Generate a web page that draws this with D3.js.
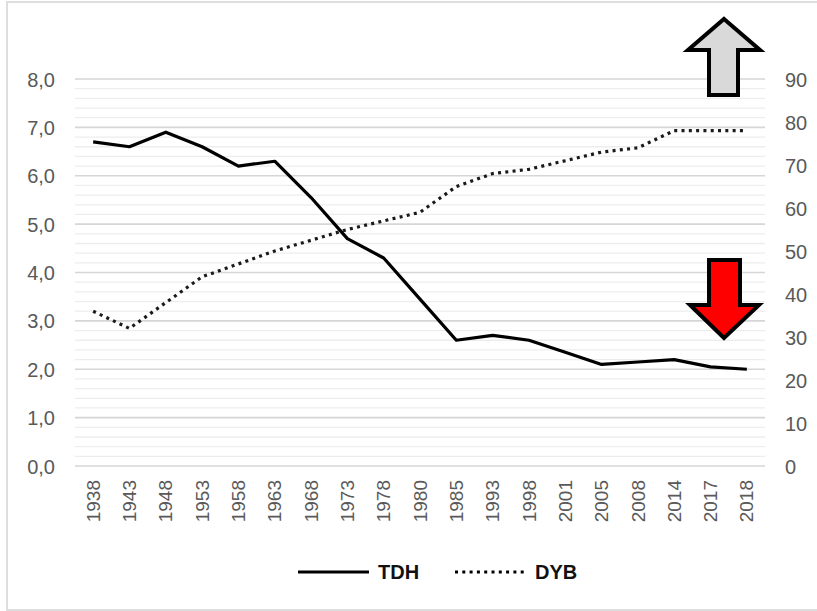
<!DOCTYPE html>
<html>
<head>
<meta charset="utf-8">
<script src="https://cdn.jsdelivr.net/npm/d3@7"></script>
<style>
  html, body { margin: 0; padding: 0; background: #ffffff; }
  svg { display: block; font-family: "Liberation Sans", Arial, sans-serif; }
</style>
</head>
<body>
<svg id="chart" width="817" height="611"></svg>
<script>
// Survey years on the category axis
const years = ["1938","1943","1948","1953","1958","1963","1968","1973","1978","1980",
               "1985","1993","1998","2001","2005","2008","2014","2017","2018"];
// TDH series (left axis)
const tdh = [6.7, 6.6, 6.9, 6.6, 6.2, 6.3, 5.55, 4.7, 4.3, 3.45,
             2.6, 2.7, 2.6, 2.35, 2.1, 2.15, 2.2, 2.05, 2.0];
// DYB series (right axis)
const dyb = [36, 32, 38, 44, 47, 50, 52.5, 55, 57, 59,
             65, 68, 69, 71, 73, 74, 78, 78, 78];
// Axis tick values
const leftTicks = [0, 1, 2, 3, 4, 5, 6, 7, 8];
const rightTicks = [0, 10, 20, 30, 40, 50, 60, 70, 80, 90];
const legendItems = ["TDH", "DYB"];

const svg = d3.select("#chart");
const plot = { left: 75, right: 765, top: 79, bottom: 466 };

// Outer chart frame
svg.append("rect")
  .attr("x", 7).attr("y", 2)
  .attr("width", 830).attr("height", 608)
  .attr("fill", "none")
  .attr("stroke", "#dedede")
  .attr("stroke-width", 2);

const x = d3.scaleBand().domain(years).range([plot.left, plot.right]).padding(0);
const xc = d => x(d) + x.bandwidth() / 2;
const yL = d3.scaleLinear().domain([0, 8]).range([plot.bottom, plot.top]);
const yR = d3.scaleLinear().domain([0, 90]).range([plot.bottom, plot.top]);

// Minor gridlines every 0.2 on the left scale
const minor = d3.range(0, 8.0001, 0.2).filter(v => Math.abs(v - Math.round(v)) > 1e-6);
svg.append("g").selectAll("line").data(minor).join("line")
  .attr("x1", plot.left).attr("x2", plot.right)
  .attr("y1", d => yL(d)).attr("y2", d => yL(d))
  .attr("stroke", "#ededed").attr("stroke-width", 1.3);

// Major gridlines on the left axis ticks
svg.append("g").selectAll("line").data(leftTicks).join("line")
  .attr("x1", plot.left).attr("x2", plot.right)
  .attr("y1", d => yL(d)).attr("y2", d => yL(d))
  .attr("stroke", "#d6d6d6").attr("stroke-width", 1.6);

// Left axis
const fmtL = d => d3.format(".1f")(d).replace(".", ",");
const leftAxis = svg.append("g")
  .attr("transform", `translate(${plot.left},0)`)
  .call(d3.axisLeft(yL).tickValues(leftTicks).tickFormat(fmtL).tickSize(0).tickPadding(20));
leftAxis.select(".domain").remove();
leftAxis.selectAll("text")
  .attr("fill", "#595959").style("font-size", "20px")
  .attr("dy", "0.35em");

// Right axis
const rightAxis = svg.append("g")
  .attr("transform", `translate(${plot.right},0)`)
  .call(d3.axisRight(yR).tickValues(rightTicks).tickSize(0).tickPadding(20));
rightAxis.select(".domain").remove();
rightAxis.selectAll("text")
  .attr("fill", "#595959").style("font-size", "20px")
  .attr("dy", "0.35em");

// Bottom axis with vertical labels
const bottomAxis = svg.append("g")
  .attr("transform", `translate(0,${plot.bottom})`)
  .call(d3.axisBottom(x).tickSize(0));
bottomAxis.select(".domain").remove();
bottomAxis.selectAll("text")
  .attr("fill", "#595959").style("font-size", "19px")
  .attr("text-anchor", "end")
  .attr("transform", "rotate(-90)")
  .attr("x", -14).attr("y", 0).attr("dy", "0.35em");

// Series lines
const lineL = d3.line().x((d, i) => xc(years[i])).y(d => yL(d));
const lineR = d3.line().x((d, i) => xc(years[i])).y(d => yR(d));

svg.append("path").datum(dyb)
  .attr("d", lineR)
  .attr("fill", "none").attr("stroke", "#1a1a1a")
  .attr("stroke-width", 3.2)
  .attr("stroke-dasharray", "3 4.3");

svg.append("path").datum(tdh)
  .attr("d", lineL)
  .attr("fill", "none").attr("stroke", "#000")
  .attr("stroke-width", 3.2)
  .attr("stroke-linejoin", "round");

// Legend
const legend = svg.append("g");
const legX = [298, 455];
legendItems.forEach((name, i) => {
  const g = legend.append("g").attr("transform", `translate(${legX[i]},572)`);
  g.append("line").attr("x1", 0).attr("x2", i === 0 ? 71 : 69)
    .attr("stroke", "#000").attr("stroke-width", 3.2)
    .attr("stroke-dasharray", i === 0 ? null : "3 4.3");
  g.append("text").attr("x", i === 0 ? 80 : 80).attr("y", 0).attr("dy", "0.35em")
    .attr("fill", "#111").style("font-size", "20px").style("font-weight", "bold")
    .text(name);
});

// Trend arrows
const upArrow = "M724,19 L760,50 L738,50 L738,95 L709,95 L709,50 L688,50 Z";
svg.append("path").attr("d", upArrow)
  .attr("fill", "#d9d9d9").attr("stroke", "#000").attr("stroke-width", 4)
  .attr("stroke-linejoin", "miter");

const downArrow = "M709,260 L740,260 L740,305 L759,305 L724,338 L690,305 L709,305 Z";
svg.append("path").attr("d", downArrow)
  .attr("fill", "#ff0000").attr("stroke", "#000").attr("stroke-width", 4)
  .attr("stroke-linejoin", "miter");
</script>
</body>
</html>
